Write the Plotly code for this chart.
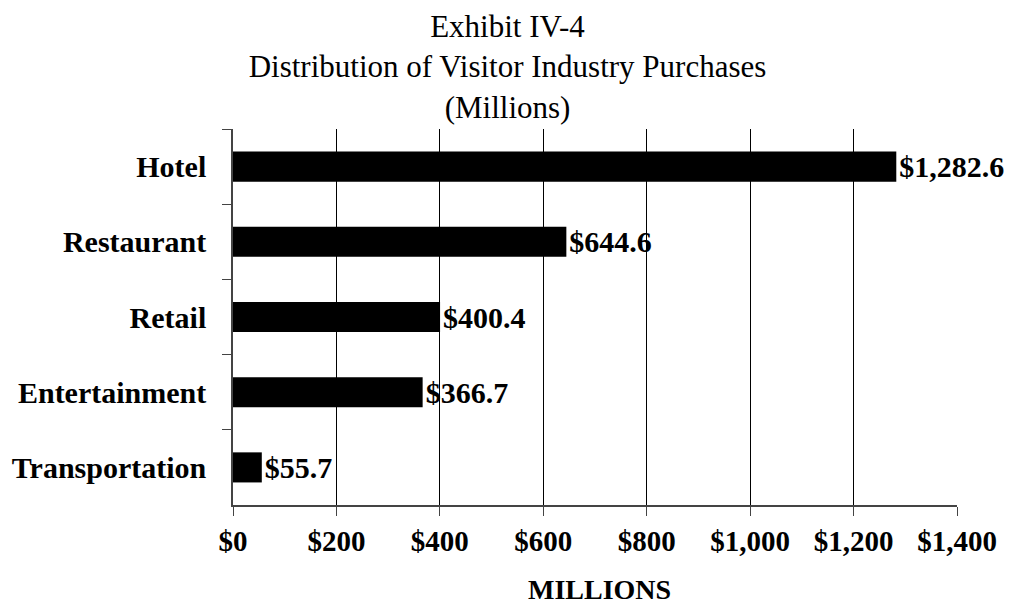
import plotly.graph_objects as go

categories = ["Hotel", "Restaurant", "Retail", "Entertainment", "Transportation"]
values = [1282.6, 644.6, 400.4, 366.7, 55.7]
x_tickvals = [0, 200, 400, 600, 800, 1000, 1200, 1400]
x_ticktext = ["$0", "$200", "$400", "$600", "$800", "$1,000", "$1,200", "$1,400"]

FONT = "Liberation Serif, Times New Roman, serif"

fig = go.Figure(
    go.Bar(
        x=values,
        y=categories,
        orientation="h",
        width=0.4,
        marker=dict(color="black", line=dict(width=0)),
        texttemplate="$%{x:,.1f}",
        textposition="outside",
        constraintext="none",
        cliponaxis=False,
        textfont=dict(family=FONT, size=30, color="black", weight="bold"),
        hoverinfo="skip",
    )
)

fig.update_layout(
    width=1009,
    height=606,
    margin=dict(l=231, r=49, t=129, b=101),
    paper_bgcolor="white",
    plot_bgcolor="white",
    showlegend=False,
    title=dict(
        text="Exhibit IV-4<br>Distribution of Visitor Industry Purchases<br>(Millions)",
        font=dict(family=FONT, size=31, color="black"),
        x=0.503,
        xref="container",
        xanchor="center",
        y=1 - 37 / 606,
        yref="container",
        yanchor="top",
    ),
    xaxis=dict(
        range=[0, 1400],
        tickvals=x_tickvals,
        ticktext=x_ticktext,
        tickfont=dict(family=FONT, size=29, color="black", weight="bold"),
        ticks="outside",
        ticklen=9,
        tickcolor="#444",
        ticklabelstandoff=0,
        showline=True,
        linecolor="#444",
        linewidth=1.5,
        showgrid=True,
        gridcolor="black",
        gridwidth=1,
        zeroline=False,
        fixedrange=True,
    ),
    yaxis=dict(
        autorange="reversed",
        tickson="boundaries",
        tickfont=dict(family=FONT, size=30, color="black", weight="bold"),
        ticks="outside",
        ticklen=9,
        tickcolor="#444",
        ticklabelstandoff=19,
        showline=True,
        linecolor="#444",
        linewidth=1.5,
        showgrid=False,
        zeroline=False,
        fixedrange=True,
    ),
    annotations=[
        dict(
            text="MILLIONS",
            xref="paper",
            yref="paper",
            x=(600 - 231) / 729,
            y=-(589 - 505) / 376,
            xanchor="center",
            yanchor="middle",
            showarrow=False,
            font=dict(family=FONT, size=28, color="black", weight="bold"),
        )
    ],
)

fig.write_html("out.html")
